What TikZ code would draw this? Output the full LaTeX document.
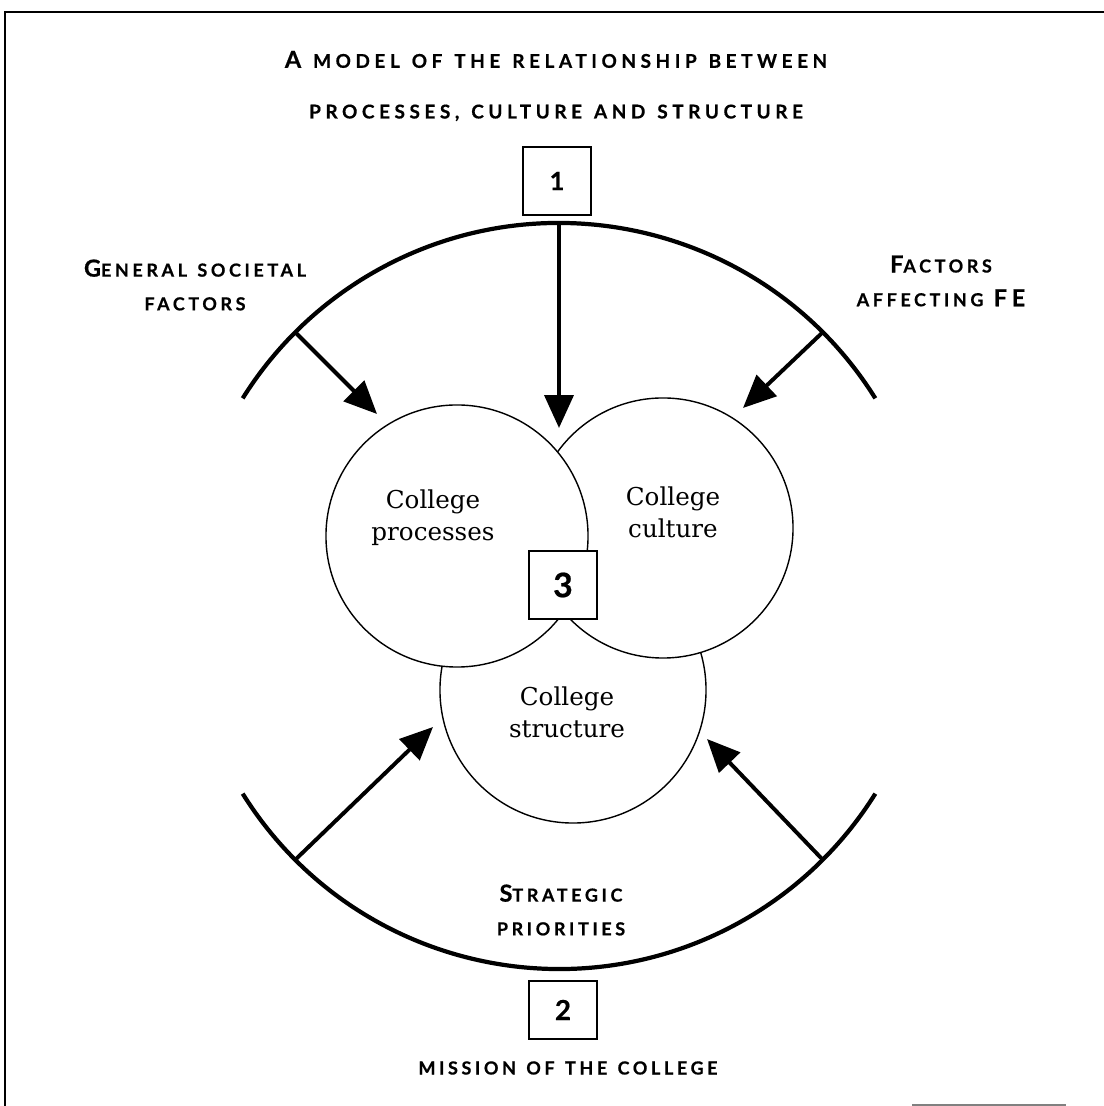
\documentclass[tikz,border=0pt]{standalone}
\usepackage{fontspec}
\usetikzlibrary{arrows.meta,calc}
\newfontfamily\capsfont[LetterSpace=20,WordSpace=1.3,BoldFeatures={FakeBold=0.6}]{Lato}
\newfontfamily\titlefont[LetterSpace=24,WordSpace=1.3,BoldFeatures={FakeBold=0.6}]{Lato}
\newfontfamily\numfont[BoldFeatures={FakeBold=0.6}]{Lato}
\newfontfamily\bodyfont{DejaVu Serif}
\newcommand{\bigini}[1]{{\fontsize{16.7}{24}\selectfont #1}}
\tikzset{
  ringarc/.style={line width=3pt},
  arr/.style={-{Triangle[length=0.82cm,width=0.72cm]},line width=2.8pt},
  bubble/.style={circle,draw,line width=1pt,fill=white,inner sep=0pt},
  numbox/.style={rectangle,draw,line width=1.3pt,fill=white,minimum width=1.7cm,minimum height=1.7cm,inner sep=0pt,font=\numfont\bfseries},
  capslbl/.style={font=\capsfont\bfseries\fontsize{12.8}{24}\selectfont,align=center},
  bodylbl/.style={font=\bodyfont\fontsize{17.5}{22.7}\selectfont,align=center}
}

\begin{document}
\begin{tikzpicture}[x=0.025cm,y=0.025cm]
  \useasboundingbox (0,0) rectangle (1104,1106);
  % page frame
  \draw[line width=1.2pt] (5,0) -- (5,1094) -- (1104,1094);
  \draw[gray,line width=1pt] (912,1) -- (1066,1);

  % outer ring
  \coordinate (ctr) at (559,510);
  \coordinate (rtop) at ($(ctr)+(90:373)$);
  \coordinate (r45) at ($(ctr)+(45:373)$);
  \coordinate (r135) at ($(ctr)+(135:373)$);
  \coordinate (r225) at ($(ctr)+(225:373)$);
  \coordinate (r315) at ($(ctr)+(315:373)$);
  \draw[ringarc] ($(ctr)+(32:373)$) arc[start angle=32,end angle=148,radius=373];
  \draw[ringarc] ($(ctr)+(212:373)$) arc[start angle=212,end angle=328,radius=373];

  % the three circles
  \node[bubble,minimum size=6.65cm] (struc) at (573,416) {};
  \node[bubble,minimum size=6.5cm] (cult) at (663,578) {};
  \node[bubble,minimum size=6.55cm] (proc) at (457,570) {};

  \node[bodylbl] (proclbl) at (433,588) {College\\processes};
  \node[bodylbl] (cultlbl) at (673,594) {College\\culture};
  \node[bodylbl] (struclbl) at (567,394) {College\\structure};

  \node[numbox,font=\numfont\bfseries\fontsize{24}{24}\selectfont] (box3) at (563,521) {3};
  \node[numbox,font=\numfont\bfseries\fontsize{18}{18}\selectfont] (box1) at (557,925) {1};
  \node[numbox,minimum height=1.43cm,font=\numfont\bfseries\fontsize{19.7}{20}\selectfont] (box2) at (563,96) {2};

  % arrow tips
  \coordinate (tipgen) at (377,692);
  \coordinate (tipfe) at (743,698);
  \coordinate (tipmid) at (559,678);
  \coordinate (tipsl) at (433,379);
  \coordinate (tipsr) at (707,367);

  \draw[arr] (r135) -- (tipgen);
  \draw[arr] (r45) -- (tipfe);
  \draw[arr] (rtop) -- (tipmid);
  \draw[arr] (r225) -- (tipsl);
  \draw[arr] (r315) -- (tipsr);

  % texts
  \node[capslbl,font=\titlefont\bfseries\fontsize{13.5}{36}\selectfont] (title) at (556,1020)
    {\bigini{A} MODEL OF THE RELATIONSHIP BETWEEN\\PROCESSES, CULTURE AND STRUCTURE};
  \node[capslbl] (gen) at (195,821) {\bigini{G}ENERAL SOCIETAL\\FACTORS};
  \node[capslbl] (fe) at (941,825) {\bigini{F}ACTORS\\AFFECTING \bigini{FE}};
  \node[capslbl] (strat) at (561,196) {\bigini{S}TRATEGIC\\PRIORITIES};
  \node[capslbl] (mission) at (568,38) {MISSION OF THE COLLEGE};
\end{tikzpicture}
\end{document}
